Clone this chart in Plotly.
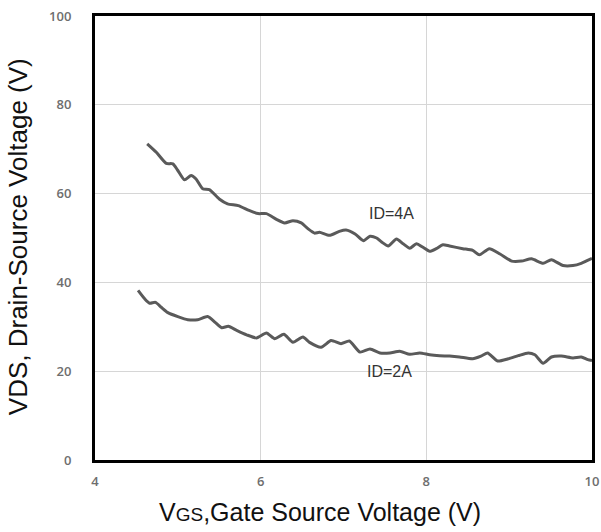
import plotly.graph_objects as go

# VDS vs VGS for two drain currents
vgs_4a = [4.63, 4.74, 4.86, 4.94, 5.00, 5.08, 5.16, 5.22, 5.30, 5.38, 5.50, 5.60,
          5.73, 5.86, 5.97, 6.07, 6.19, 6.29, 6.39, 6.49, 6.57, 6.65, 6.71, 6.83,
          6.95, 7.03, 7.14, 7.24, 7.32, 7.40, 7.46, 7.54, 7.64, 7.72, 7.80, 7.88,
          7.96, 8.04, 8.12, 8.20, 8.28, 8.44, 8.56, 8.64, 8.76, 8.89, 9.03, 9.15,
          9.27, 9.41, 9.51, 9.65, 9.77, 9.87, 9.94, 10.0]
vds_4a = [71.2, 69.3, 66.8, 66.7, 65.2, 63.1, 64.1, 63.3, 61.1, 60.9, 58.8, 57.7,
          57.3, 56.2, 55.5, 55.5, 54.2, 53.4, 53.9, 53.4, 52.1, 51.1, 51.3, 50.6,
          51.5, 51.8, 50.9, 49.4, 50.4, 50.0, 49.1, 48.2, 49.8, 48.7, 47.7, 48.7,
          47.9, 47.0, 47.6, 48.5, 48.2, 47.6, 47.2, 46.2, 47.6, 46.4, 44.8, 44.8,
          45.3, 44.3, 45.1, 43.8, 43.8, 44.3, 44.9, 45.4]

vgs_2a = [4.52, 4.60, 4.66, 4.73, 4.80, 4.88, 5.00, 5.12, 5.24, 5.36, 5.45, 5.53,
          5.61, 5.71, 5.83, 5.95, 6.07, 6.17, 6.28, 6.39, 6.51, 6.59, 6.73, 6.85,
          6.97, 7.07, 7.20, 7.32, 7.44, 7.56, 7.68, 7.80, 7.92, 8.04, 8.16, 8.28,
          8.40, 8.56, 8.66, 8.74, 8.86, 8.99, 9.11, 9.23, 9.31, 9.41, 9.51, 9.63,
          9.77, 9.87, 9.95, 10.0]
vds_2a = [38.2, 36.3, 35.3, 35.5, 34.4, 33.2, 32.3, 31.6, 31.6, 32.3, 31.0, 29.8,
          30.1, 29.2, 28.2, 27.5, 28.6, 27.3, 28.3, 26.5, 27.7, 26.5, 25.4, 26.9,
          26.2, 26.8, 24.3, 25.0, 24.1, 24.1, 24.5, 23.8, 24.1, 23.7, 23.5, 23.4,
          23.2, 22.8, 23.4, 24.1, 22.3, 22.8, 23.5, 24.1, 23.7, 21.8, 23.2, 23.4,
          23.0, 23.2, 22.6, 22.4]

curve_labels = ["ID=4A", "ID=2A"]
label_x = [7.58, 7.56]
label_y = [55.6, 20.0]

x_ticks = [4, 6, 8, 10]
y_ticks = [0, 20, 40, 60, 80, 100]

x_title = "V<span style='font-size:19px'>GS</span>,Gate Source Voltage (V)"
y_title = "VDS, Drain-Source Voltage (V)"

line_style = dict(color="#5a5a5a", width=3, shape="spline", smoothing=0.6)

fig = go.Figure()
fig.add_trace(go.Scatter(x=vgs_4a, y=vds_4a, mode="lines", line=line_style,
                         name=curve_labels[0], showlegend=False, hoverinfo="skip"))
fig.add_trace(go.Scatter(x=vgs_2a, y=vds_2a, mode="lines", line=line_style,
                         name=curve_labels[1], showlegend=False, hoverinfo="skip"))

for txt, lx, ly in zip(curve_labels, label_x, label_y):
    fig.add_annotation(x=lx, y=ly, text=txt, showarrow=False,
                       font=dict(family="Liberation Sans", size=16, color="#333333"))

# axis titles placed in paper coordinates
fig.add_annotation(xref="paper", yref="paper", x=0.453, y=-0.116,
                   xanchor="center", yanchor="middle", text=x_title,
                   showarrow=False,
                   font=dict(family="Liberation Sans", size=25, color="#111111"))
fig.add_annotation(xref="paper", yref="paper", x=-0.155, y=0.504,
                   xanchor="center", yanchor="middle", text=y_title, textangle=-90,
                   showarrow=False,
                   font=dict(family="Liberation Sans", size=26, color="#111111"))

tick_font = dict(family="Open Sans", size=13, color="#6e6e6e", weight=600)

fig.update_layout(
    width=601, height=532,
    margin=dict(l=95, r=9, t=16, b=72),
    paper_bgcolor="white", plot_bgcolor="white",
    xaxis=dict(
        range=[4, 10], tickvals=x_ticks, ticktext=[str(v) for v in x_ticks],
        showgrid=True, gridcolor="#d6d6d6", gridwidth=1,
        showline=True, linecolor="black", linewidth=3, mirror=True,
        ticks="", ticklabelstandoff=7, tickfont=tick_font, zeroline=False,
        automargin=False,
    ),
    yaxis=dict(
        range=[0, 100], tickvals=y_ticks, ticktext=[str(v) for v in y_ticks],
        showgrid=True, gridcolor="#d6d6d6", gridwidth=1,
        showline=True, linecolor="black", linewidth=3, mirror=True,
        ticks="", ticklabelstandoff=18, tickfont=tick_font, zeroline=False,
        automargin=False,
    ),
)

fig.write_html("out.html")
